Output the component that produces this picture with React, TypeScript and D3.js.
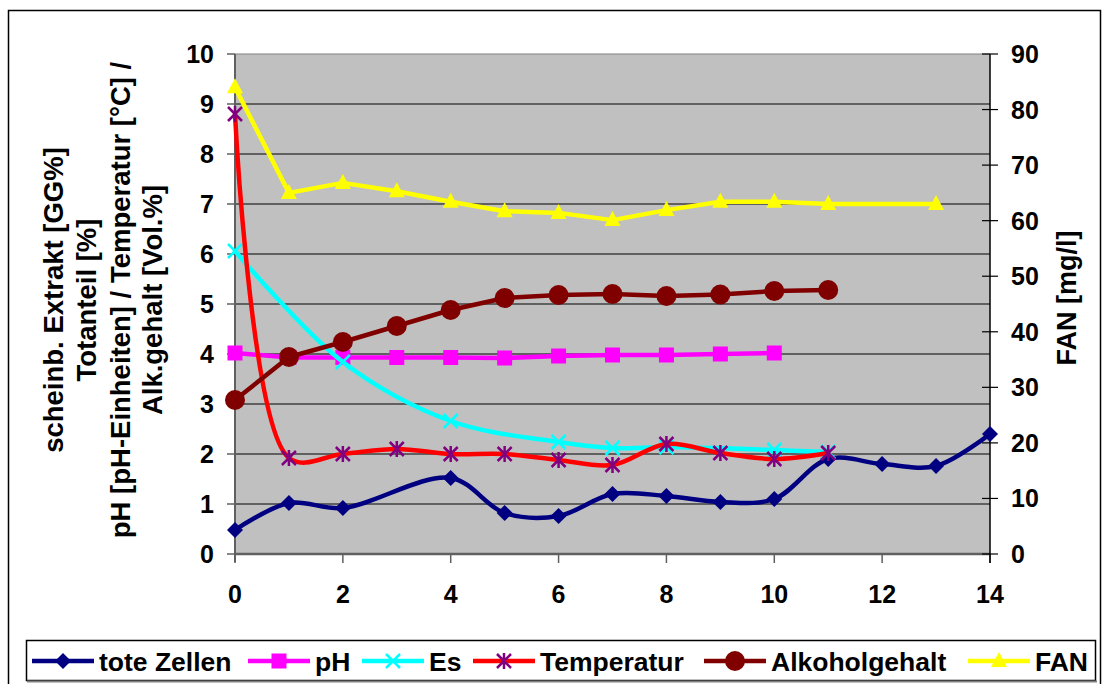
import React from "react";
import * as d3 from "d3";

// ---- data ----
const days = [0, 1, 2, 3, 4, 5, 6, 7, 8, 9, 10, 11, 12, 13, 14];
const toteZellen = [0.48, 1.02, 0.92, null, 1.52, 0.82, 0.76, 1.2, 1.16, 1.04, 1.1, 1.9, 1.8, 1.76, 2.4];
const pH = [4.02, 3.93, 3.93, 3.93, 3.93, 3.92, 3.96, 3.98, 3.98, 4.0, 4.02];
const es = [6.06, null, 3.84, null, 2.66, null, 2.24, 2.12, 2.14, null, 2.08, 2.04];
const temperatur = [8.8, 1.92, 2.0, 2.1, 2.0, 2.0, 1.88, 1.78, 2.2, 2.02, 1.9, 2.02];
const alkoholgehalt = [3.08, 3.94, 4.24, 4.56, 4.88, 5.12, 5.18, 5.2, 5.16, 5.19, 5.26, 5.28];
const fan = [84, 65, 66.8, 65.3, 63.4, 61.7, 61.4, 60.1, 61.9, 63.4, 63.4, 63, null, 63];

const leftTicks = [0, 1, 2, 3, 4, 5, 6, 7, 8, 9, 10];
const rightTicks = [0, 10, 20, 30, 40, 50, 60, 70, 80, 90];
const xTicks = [0, 2, 4, 6, 8, 10, 12, 14];
const yTitleLines = [
  "scheinb. Extrakt [GG%]",
  "Totanteil [%]",
  "pH [pH-Einheiten] / Temperatur [°C] /",
  "Alk.gehalt [Vol.%]",
];
const rightTitle = "FAN [mg/l]";

type Marker = "diamond" | "square" | "x" | "star" | "circle" | "triangle";
interface Series {
  name: string;
  values: (number | null)[];
  axis: "L" | "R";
  line: string;
  markerColor: string;
  marker: Marker;
  smooth: boolean;
  width: number;
}

const series: Series[] = [
  { name: "tote Zellen", values: toteZellen, axis: "L", line: "#000080", markerColor: "#000080", marker: "diamond", smooth: true, width: 4.5 },
  { name: "pH", values: pH, axis: "L", line: "#FF00FF", markerColor: "#FF00FF", marker: "square", smooth: false, width: 4.5 },
  { name: "Es", values: es, axis: "L", line: "#00FFFF", markerColor: "#00FFFF", marker: "x", smooth: true, width: 4.5 },
  { name: "Temperatur", values: temperatur, axis: "L", line: "#FF0000", markerColor: "#800080", marker: "star", smooth: true, width: 4.5 },
  { name: "Alkoholgehalt", values: alkoholgehalt, axis: "L", line: "#800000", markerColor: "#800000", marker: "circle", smooth: false, width: 4.5 },
  { name: "FAN", values: fan, axis: "R", line: "#FFFF00", markerColor: "#FFFF00", marker: "triangle", smooth: false, width: 4.5 },
];

// ---- layout ----
const PL = 235, PR = 990, PT = 54, PB = 554;
const x = d3.scaleLinear().domain([0, 14]).range([PL, PR]);
const yL = d3.scaleLinear().domain([0, 10]).range([PB, PT]);
const yR = d3.scaleLinear().domain([0, 90]).range([PB, PT]);
const FONT = "'Liberation Sans', Arial, sans-serif";
const legendX = [32, 248, 362, 473, 704, 968];

function MarkerShape({ type, cx, cy, color }: { type: Marker; cx: number; cy: number; color: string }) {
  switch (type) {
    case "diamond":
      return <path d={`M${cx},${cy - 8}L${cx + 8},${cy}L${cx},${cy + 8}L${cx - 8},${cy}Z`} fill={color} />;
    case "square":
      return <rect x={cx - 7.5} y={cy - 7.5} width={15} height={15} fill={color} />;
    case "x":
      return (
        <path d={`M${cx - 7},${cy - 7}L${cx + 7},${cy + 7}M${cx - 7},${cy + 7}L${cx + 7},${cy - 7}`} stroke={color} strokeWidth={2.5} />
      );
    case "star":
      return (
        <path
          d={`M${cx - 7},${cy - 7}L${cx + 7},${cy + 7}M${cx - 7},${cy + 7}L${cx + 7},${cy - 7}M${cx},${cy - 8}L${cx},${cy + 8}`}
          stroke={color}
          strokeWidth={2.5}
        />
      );
    case "circle":
      return <circle cx={cx} cy={cy} r={10} fill={color} />;
    case "triangle":
      return <path d={`M${cx},${cy - 9}L${cx + 8},${cy + 6}L${cx - 8},${cy + 6}Z`} fill={color} />;
  }
  return null;
}

export default function App() {
  return (
    <svg width={1104} height={684} style={{ position: "absolute", left: 0, top: 0, background: "#fff" }} fontFamily={FONT}>
      {/* outer chart border */}
      <rect x={8.5} y={10.5} width={1092} height={700} fill="none" stroke="#000" strokeWidth={1.5} />

      {/* plot area */}
      <rect x={PL} y={PT} width={PR - PL} height={PB - PT} fill="#C0C0C0" />
      {leftTicks.slice(1).map((t) => (
        <line key={"g" + t} x1={PL} x2={PR} y1={yL(t)} y2={yL(t)} stroke={t === 10 ? "#808080" : "#000"} strokeWidth={1.2} />
      ))}

      {/* left axis */}
      <line x1={PL} x2={PL} y1={PT} y2={PB + 8} stroke="#606060" strokeWidth={2} />
      {leftTicks.map((t) => (
        <g key={"l" + t}>
          <line x1={PL - 8} x2={PL} y1={yL(t)} y2={yL(t)} stroke="#606060" strokeWidth={1.5} />
          <text x={214} y={yL(t) + 9} textAnchor="end" fontSize={25} fontWeight="bold">{t}</text>
        </g>
      ))}

      {/* bottom axis */}
      <line x1={PL} x2={PR} y1={PB} y2={PB} stroke="#606060" strokeWidth={2.5} />
      {xTicks.map((t) => (
        <g key={"x" + t}>
          <line x1={x(t)} x2={x(t)} y1={PB} y2={PB + 9} stroke="#606060" strokeWidth={1.5} />
          <text x={x(t)} y={603} textAnchor="middle" fontSize={25} fontWeight="bold">{t}</text>
        </g>
      ))}

      {/* right axis */}
      <line x1={PR} x2={PR} y1={PT} y2={PB + 9} stroke="#000" strokeWidth={1.5} />
      {rightTicks.map((t) => (
        <g key={"r" + t}>
          <line x1={PR - 8} x2={PR + 8} y1={yR(t)} y2={yR(t)} stroke="#000" strokeWidth={1.2} />
          <text x={1011} y={yR(t) + 9} textAnchor="start" fontSize={25} fontWeight="bold">{t}</text>
        </g>
      ))}

      {/* series */}
      {series.map((s) => {
        const ys = s.axis === "L" ? yL : yR;
        const pts = s.values
          .map((v, i) => ({ d: days[i], v }))
          .filter((p) => p.v !== null) as { d: number; v: number }[];
        const gen = d3
          .line<{ d: number; v: number }>()
          .x((p) => x(p.d))
          .y((p) => ys(p.v))
          .curve(s.smooth ? d3.curveCatmullRom.alpha(0.5) : d3.curveLinear);
        return (
          <g key={s.name}>
            <path d={gen(pts) || ""} fill="none" stroke={s.line} strokeWidth={s.width} strokeLinejoin="round" strokeLinecap="round" />
            {pts.map((p) => (
              <MarkerShape key={p.d} type={s.marker} cx={x(p.d)} cy={ys(p.v)} color={s.markerColor} />
            ))}
          </g>
        );
      })}

      {/* left title */}
      {yTitleLines.map((l, i) => {
        const bx = [63, 96, 130, 162][i];
        return (
          <text key={l} transform={`translate(${bx},300) rotate(-90)`} textAnchor="middle" fontSize={27.5} fontWeight="bold">
            {l}
          </text>
        );
      })}
      <text transform={`translate(1076,298) rotate(-90)`} textAnchor="middle" fontSize={27} fontWeight="bold">
        {rightTitle}
      </text>

      {/* legend */}
      <rect x={26.5} y={640.5} width={1069} height={40} fill="#fff" stroke="#000" strokeWidth={1.5} />
      <line x1={27} x2={1097} y1={681.5} y2={681.5} stroke="#808080" strokeWidth={2} />
      {series.map((s, i) => {
        const lx = legendX[i];
        const cy = 661;
        return (
          <g key={"lg" + s.name}>
            <line x1={lx} x2={lx + 62} y1={cy} y2={cy} stroke={s.line} strokeWidth={4.5} />
            <MarkerShape type={s.marker} cx={lx + 31} cy={cy} color={s.markerColor} />
            <text x={lx + 67} y={cy + 9.5} fontSize={26.5} fontWeight="bold">{s.name}</text>
          </g>
        );
      })}
    </svg>
  );
}
